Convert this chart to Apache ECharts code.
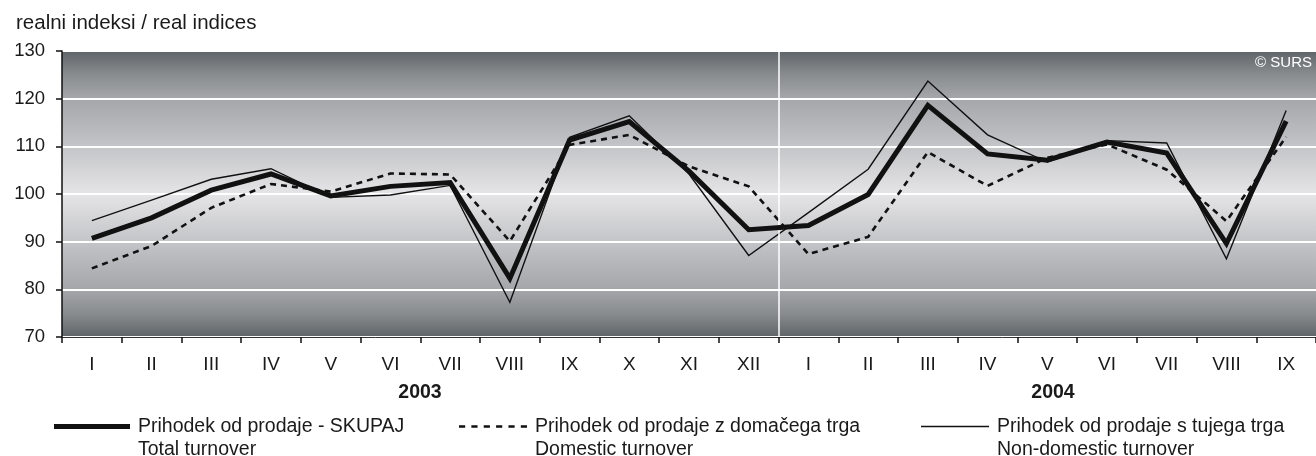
<!DOCTYPE html>
<html>
<head>
<meta charset="utf-8">
<script src="https://cdn.jsdelivr.net/npm/echarts@6/dist/echarts.min.js"></script>
<style>
html,body{margin:0;padding:0;background:#fff;}
#chart{width:1316px;height:456px;}
</style>
</head>
<body>
<div id="chart"></div>
<script>
var months = ['I','II','III','IV','V','VI','VII','VIII','IX','X','XI','XII','I','II','III','IV','V','VI','VII','VIII','IX'];
var total = [90.7, 95.0, 100.8, 104.2, 99.6, 101.6, 102.4, 82.3, 111.3, 115.2, 104.8, 92.5, 93.4, 99.9, 118.6, 108.4, 107.1, 110.9, 108.6, 89.6, 115.3];
var domestic = [84.4, 89.1, 97.1, 102.1, 100.5, 104.3, 104.1, 90.1, 110.3, 112.4, 105.8, 101.6, 87.4, 91.0, 108.8, 101.7, 107.6, 110.4, 105.1, 94.3, 112.0];
var nonDomestic = [94.4, 98.7, 103.1, 105.3, 99.3, 99.8, 101.8, 77.3, 111.9, 116.4, 104.2, 87.1, 96.1, 105.2, 123.7, 112.4, 106.7, 111.2, 110.7, 86.4, 117.5];
var yTicks = {min: 70, max: 130, interval: 10};
var years = ['2003', '2004'];
var seriesNames = [
  'Prihodek od prodaje - SKUPAJ\nTotal turnover',
  'Prihodek od prodaje z domačega trga\nDomestic turnover',
  'Prihodek od prodaje s tujega trga\nNon-domestic turnover'
];

var FONT = '"Liberation Sans", Arial, sans-serif';
var chart = echarts.init(document.getElementById('chart'), null, {renderer: 'canvas'});

var dashPath = 'path://M0,0h6v1h-6z M12,0h6v1h-6z M24,0h6v1h-6z M36,0h6v1h-6z M48,0h6v1h-6z M60,0h6v1h-6z';

function legendCfg(name, icon, left, w, h) {
  return {
    data: [{name: name, icon: icon}],
    left: left,
    top: 392,
    orient: 'horizontal',
    itemWidth: w,
    itemHeight: h,
    itemGap: 0,
    padding: 0,
    symbolKeepAspect: false,
    selectedMode: false,
    formatter: function (n) { return '\n' + n; },
    textStyle: {fontFamily: FONT, fontSize: 19.5, color: '#1a1a1a', lineHeight: 23, padding: [0, 0, 0, 3]}
  };
}

var option = {
  animation: false,
  backgroundColor: '#ffffff',
  title: {
    text: 'realni indeksi / real indices',
    left: 11, top: 8,
    textStyle: {fontFamily: FONT, fontSize: 20.5, fontWeight: 'normal', color: '#1a1a1a'}
  },
  grid: {
    left: 62, right: 0, top: 51, bottom: 119,
    show: true,
    borderWidth: 0,
    backgroundColor: new echarts.graphic.LinearGradient(0, 0, 0, 1, [
      {offset: 0, color: '#5f6468'},
      {offset: 0.08, color: '#878b8e'},
      {offset: 0.16, color: '#a3a5a8'},
      {offset: 0.3, color: '#bdbec1'},
      {offset: 0.5, color: '#e5e5e7'},
      {offset: 0.7, color: '#bdbec1'},
      {offset: 0.84, color: '#a3a5a8'},
      {offset: 0.92, color: '#878b8e'},
      {offset: 1, color: '#5f6468'}
    ])
  },
  legend: [
    legendCfg(seriesNames[0], 'rect', 54, 76, 5),
    legendCfg(seriesNames[1], dashPath, 459, 68, 2.6),
    legendCfg(seriesNames[2], 'rect', 921, 68, 1.5)
  ],
  xAxis: [{
    type: 'category',
    data: months,
    boundaryGap: true,
    axisLine: {show: true, lineStyle: {color: '#333', width: 1}},
    axisTick: {show: true, length: 6, lineStyle: {color: '#111', width: 1.5}},
    axisLabel: {fontFamily: FONT, fontSize: 19, color: '#1a1a1a', margin: 18},
    splitLine: {show: false}
  }, {
    type: 'value',
    min: 0, max: 21,
    show: false
  }],
  yAxis: {
    type: 'value',
    min: yTicks.min, max: yTicks.max, interval: yTicks.interval,
    axisLine: {show: true, lineStyle: {color: '#111', width: 1.5}},
    axisTick: {show: true, length: 6, lineStyle: {color: '#111', width: 1.5}},
    axisLabel: {fontFamily: FONT, fontSize: 18.5, color: '#1a1a1a', margin: 17, padding: [3, 0, 0, 0]},
    splitLine: {show: true, lineStyle: {color: '#ffffff', width: 2}}
  },
  graphic: [
    {type: 'text', x: 420, y: 393, style: {text: years[0], font: 'bold 19.5px ' + FONT, fill: '#1a1a1a', align: 'center', verticalAlign: 'middle'}},
    {type: 'text', x: 1053, y: 393, style: {text: years[1], font: 'bold 19.5px ' + FONT, fill: '#1a1a1a', align: 'center', verticalAlign: 'middle'}},
    {type: 'text', right: 4, top: 55, z: 10, style: {text: '© SURS', font: '15px ' + FONT, fill: '#ffffff'}}
  ],
  series: [
    {
      name: 'sep', type: 'line', xAxisIndex: 1, yAxisIndex: 0, data: [], silent: true,
      markLine: {
        silent: true, symbol: 'none', label: {show: false},
        lineStyle: {color: '#ffffff', width: 1.5, type: 'solid'},
        data: [{xAxis: 12}]
      }
    },
    {
      name: seriesNames[1], type: 'line', data: domestic, symbol: 'none', z: 3,
      lineStyle: {color: '#111', width: 2.6, type: [6, 5], join: 'miter'},
      itemStyle: {color: '#111'}
    },
    {
      name: seriesNames[2], type: 'line', data: nonDomestic, symbol: 'none', z: 4,
      lineStyle: {color: '#111', width: 1.4, type: 'solid', join: 'miter'},
      itemStyle: {color: '#111'}
    },
    {
      name: seriesNames[0], type: 'line', data: total, symbol: 'none', z: 5,
      lineStyle: {color: '#111', width: 5, type: 'solid', join: 'miter'},
      itemStyle: {color: '#111'}
    }
  ]
};
chart.setOption(option);
</script>
</body>
</html>
